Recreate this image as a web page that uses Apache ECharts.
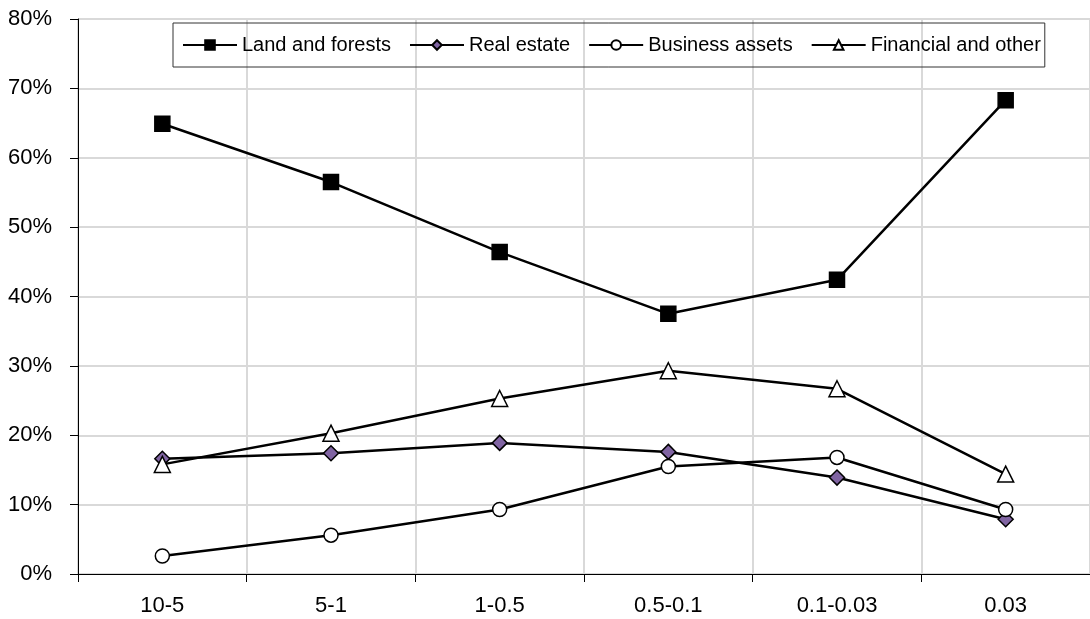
<!DOCTYPE html>
<html>
<head>
<meta charset="utf-8">
<script src="https://cdn.jsdelivr.net/npm/echarts@6/dist/echarts.min.js"></script>
<style>
  html, body { margin: 0; padding: 0; background: #fff; }
  #ch1 { width: 1090px; height: 619px; }
</style>
</head>
<body>
<div id="ch1"></div>
<script>
const categories = ['10-5', '5-1', '1-0.5', '0.5-0.1', '0.1-0.03', '0.03'];
const landForests = [64.9, 56.5, 46.4, 37.5, 42.4, 68.3];
const realEstate = [16.6, 17.4, 18.9, 17.6, 13.9, 7.9];
const businessAssets = [2.6, 5.6, 9.3, 15.5, 16.8, 9.3];
const financialOther = [15.8, 20.3, 25.3, 29.3, 26.7, 14.4];

const cht1 = echarts.init(document.getElementById('ch1'));

const font = 'Liberation Sans, Arial, sans-serif';

const lineSeries = (name, data, symbol, size, fill) => ({
  name,
  type: 'line',
  data,
  symbol,
  symbolSize: size,
  showAllSymbol: true,
  lineStyle: { color: '#000', width: 2.5 },
  itemStyle: { color: fill, borderColor: '#000', borderWidth: 1.5 },
  emphasis: { disabled: true },
});

const options1 = {
  animation: false,
  grid: {
    left: 78,
    right: -11,
    top: 19,
    bottom: 45,
  },
  legend: {
    top: 23,
    left: 173,
    padding: [12, 4, 12, 9],
    itemGap: 18,
    itemWidth: 54,
    itemHeight: 12,
    borderColor: '#333',
    borderWidth: 1,
    lineStyle: { width: 2 },
    textStyle: { fontFamily: font, fontSize: 20, color: '#000' },
    data: ['Land and forests', 'Real estate', 'Business assets', 'Financial and other'],
  },
  xAxis: {
    type: 'category',
    data: categories,
    boundaryGap: true,
    axisLine: { lineStyle: { color: '#000', width: 1 } },
    axisTick: { show: true, length: 8, lineStyle: { color: '#000' } },
    axisLabel: { fontFamily: font, fontSize: 22, color: '#000', margin: 21 },
    splitLine: { show: true, lineStyle: { color: '#d9d9d9', width: 2 } },
  },
  yAxis: {
    type: 'value',
    min: 0,
    max: 80,
    interval: 10,
    axisLine: { show: true, lineStyle: { color: '#000', width: 1 } },
    axisTick: { show: true, length: 8, lineStyle: { color: '#000' } },
    axisLabel: {
      fontFamily: font,
      fontSize: 22,
      color: '#000',
      margin: 26,
      formatter: '{value}%',
    },
    splitLine: { show: true, lineStyle: { color: '#d9d9d9', width: 2 } },
  },
  series: [
    lineSeries('Land and forests', landForests, 'rect', 15, '#000'),
    lineSeries('Real estate', realEstate, 'diamond', 15, '#8064a2'),
    lineSeries('Business assets', businessAssets, 'circle', 14, '#fff'),
    lineSeries('Financial and other', financialOther, 'triangle', 16, '#fff'),
  ],
};
cht1.setOption(options1);
</script>
</body>
</html>
